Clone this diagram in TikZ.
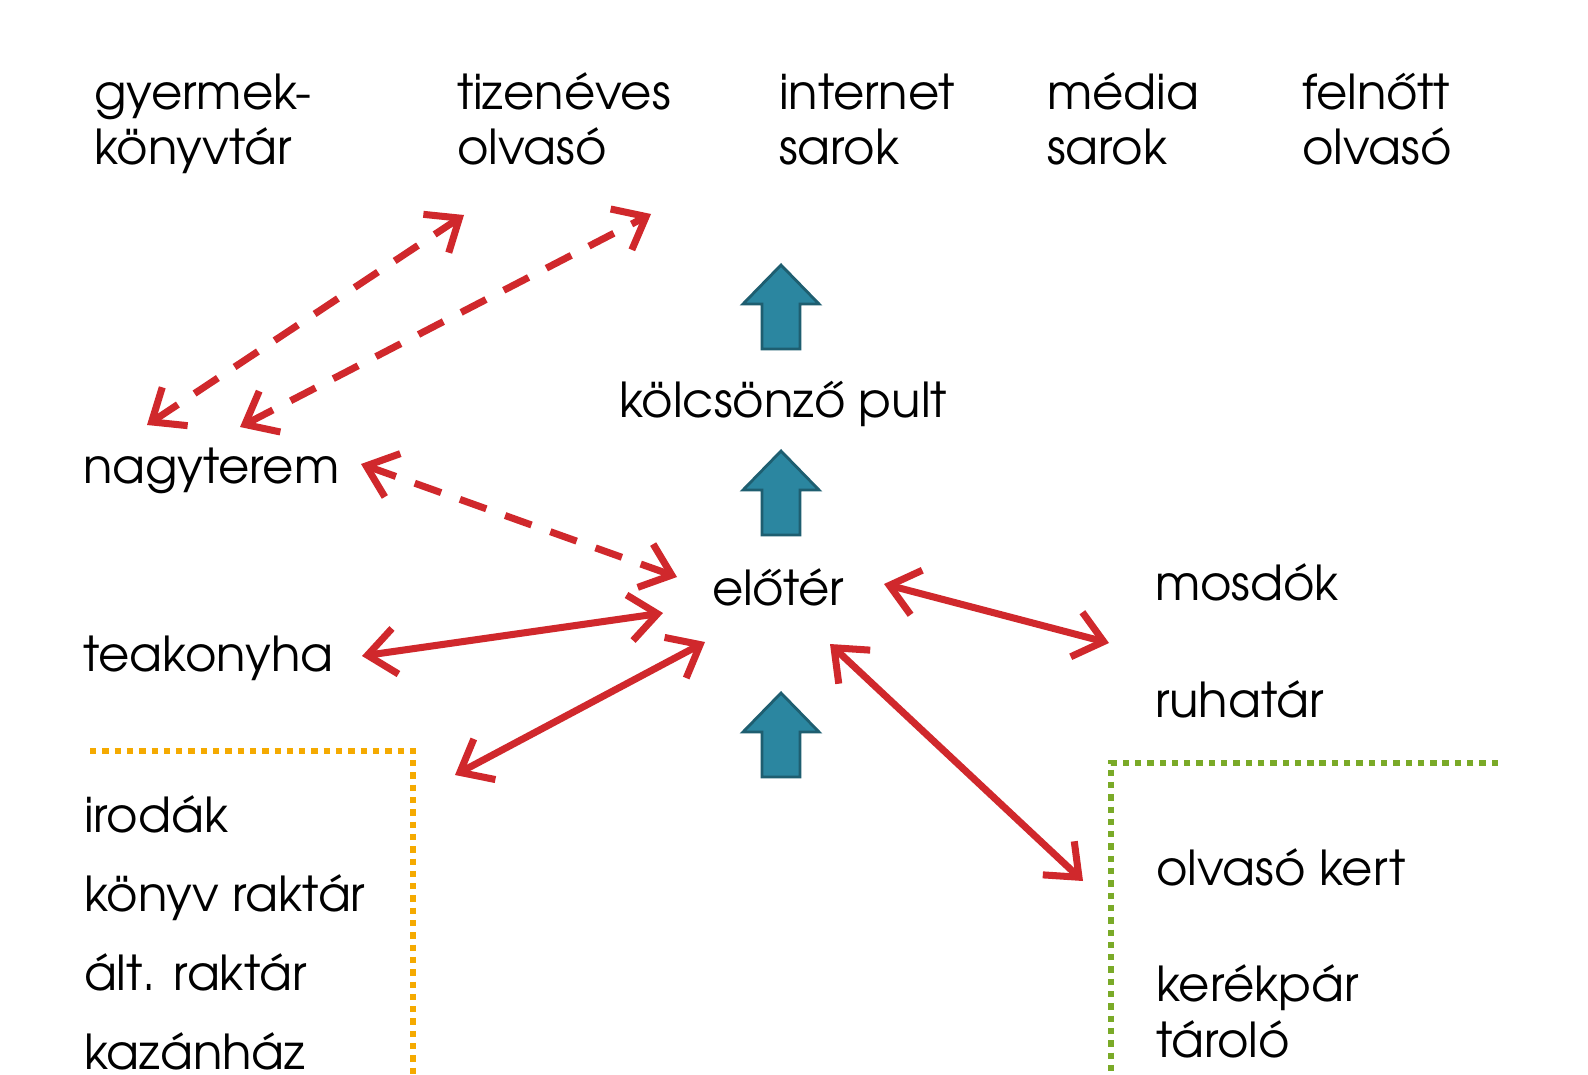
\documentclass[tikz,border=0pt]{standalone}
\usepackage{fontspec}
\setmainfont{TeX Gyre Adventor}
\usepackage{xcolor}
\usetikzlibrary{arrows.meta}
\definecolor{linkred}{RGB}{208,40,44}
\definecolor{flowblue}{RGB}{43,134,160}
\definecolor{zoneorange}{RGB}{245,170,0}
\definecolor{zonegreen}{RGB}{122,170,40}

\begin{document}
\begin{tikzpicture}[
    room/.style={anchor=base west, inner sep=0pt, outer sep=0pt, align=left, font=\fontsize{13.7}{15.9}\selectfont},
    link/.style={{Straight Barb[length=2.8mm,width=4.6mm]}-{Straight Barb[length=2.8mm,width=4.6mm]}, line width=2pt, line cap=round, draw=linkred},
    dlink/.style={link, line cap=butt, dash pattern=on 2.8mm off 2mm},
    flow/.style={fill=flowblue, draw=flowblue!70!black, line width=0.8pt},
    zone/.style={line width=1.8pt, dash pattern=on 1.8pt off 1.7pt}
]
    \useasboundingbox[fill=white] (0,0) rectangle (15.88,-10.74);

    % Top row - reading areas
    \node[room] (gyermek) at (0.94,-1.65) {gyermek-\\könyvtár};
    \node[room] (tizen) at (4.57,-1.65) {tizenéves\\olvasó};
    \node[room] (internet) at (7.79,-1.65) {internet\\sarok};
    \node[room] (media) at (10.47,-1.65) {média\\sarok};
    \node[room] (felnott) at (13.02,-1.65) {felnőtt\\olvasó};

    % Center column
    \node[room] (pult) at (6.19,-4.17) {kölcsönző pult};
    \node[room] (eloter) at (7.12,-6.05) {előtér};

    % Left side
    \node[room] (nagyterem) at (0.83,-4.83) {nagyterem};
    \node[room] (teakonyha) at (0.83,-6.71) {teakonyha};
    \node[room] (irodak) at (0.84,-8.32) {irodák};
    \node[room] (konyvraktar) at (0.84,-9.11) {könyv raktár};
    \node[room] (altraktar) at (0.84,-9.90) {ált. raktár};
    \node[room] (kazanhaz) at (0.84,-10.69) {kazánház};

    % Right side
    \node[room] (mosdok) at (11.55,-6.00) {mosdók};
    \node[room] (ruhatar) at (11.55,-7.17) {ruhatár};
    \node[room] (kert) at (11.56,-8.85) {olvasó kert};
    \node[room] (kerekpar) at (11.56,-10.57) {kerékpár\\tároló};

    % Blue flow arrows
    \draw[flow] (7.81,-2.65) -- ++(0.38,-0.39) -- ++(-0.19,0) -- ++(0,-0.45) -- ++(-0.38,0) -- ++(0,0.45) -- ++(-0.19,0) -- cycle;
    \draw[flow] (7.81,-4.51) -- ++(0.38,-0.39) -- ++(-0.19,0) -- ++(0,-0.45) -- ++(-0.38,0) -- ++(0,0.45) -- ++(-0.19,0) -- cycle;
    \draw[flow] (7.81,-6.93) -- ++(0.38,-0.39) -- ++(-0.19,0) -- ++(0,-0.45) -- ++(-0.38,0) -- ++(0,0.45) -- ++(-0.19,0) -- cycle;

    % Dashed links
    \draw[dlink] ([shift={(0.64,0.58)}]nagyterem.base west) -- ([shift={(0.07,-0.50)}]tizen.base west);
    \draw[dlink] ([shift={(1.57,0.56)}]nagyterem.base west) -- ([shift={(-1.28,-0.49)}]internet.base west);
    \draw[dlink] ([shift={(2.78,0.19)}]nagyterem.base west) -- ([shift={(-0.35,0.28)}]eloter.base west);

    % Solid links
    \draw[link] ([shift={(2.79,0.15)}]teakonyha.base west) -- ([shift={(-0.49,-0.08)}]eloter.base west);
    \draw[link] ([shift={(3.71,0.57)}]irodak.base west) -- ([shift={(-0.07,-0.37)}]eloter.base west);
    \draw[link] ([shift={(1.72,0.21)}]eloter.base west) -- ([shift={(-0.46,-0.43)}]mosdok.base west);
    \draw[link] ([shift={(1.18,-0.39)}]eloter.base west) -- ([shift={(-0.73,0.04)}]kert.base west);

    % Zone borders
    \draw[zone, zoneorange] (0.90,-7.51) -- (4.13,-7.51) -- (4.13,-10.74);
    \draw[zone, zonegreen] (14.98,-7.63) -- (11.11,-7.63) -- (11.11,-10.74);

\end{tikzpicture}
\end{document}
